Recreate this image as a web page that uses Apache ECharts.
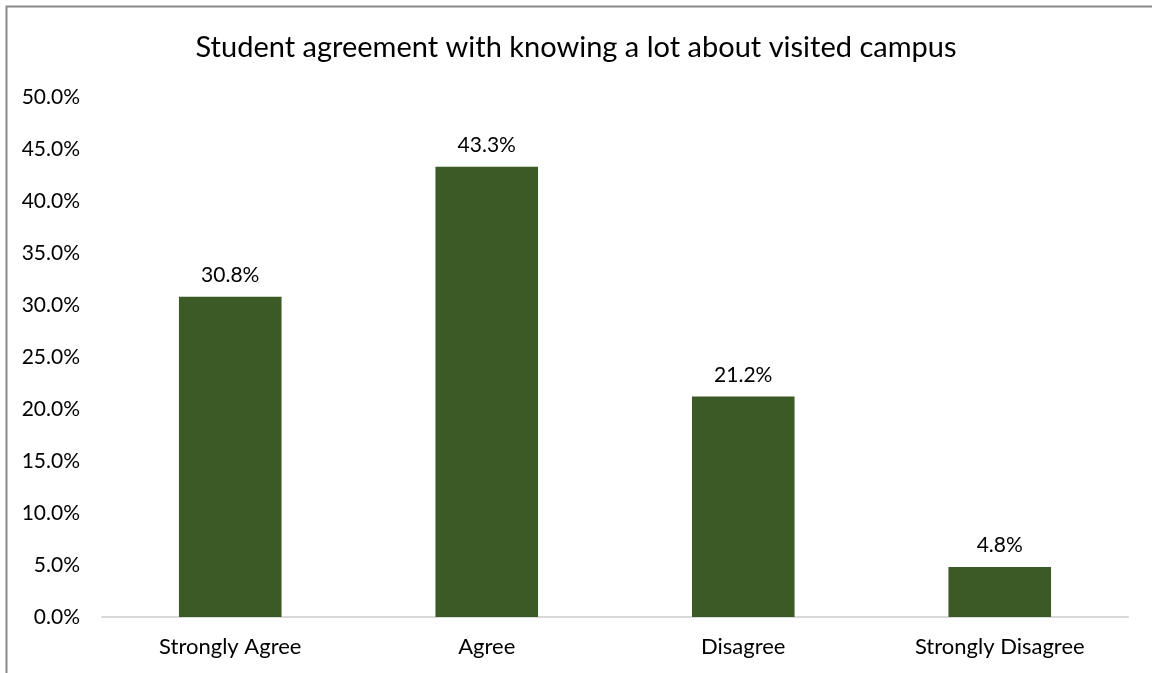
<!DOCTYPE html>
<html><head><meta charset="utf-8">
<script src="https://cdn.jsdelivr.net/npm/echarts@6/dist/echarts.min.js"></script>
<style>html,body{margin:0;padding:0;background:#fff}#c{width:1152px;height:673px}</style>
</head><body><div id="c"></div>
<script>
const categories = ["Strongly Agree", "Agree", "Disagree", "Strongly Disagree"];
const values = [30.8, 43.3, 21.2, 4.8];
const titleText = "Student agreement with knowing a lot about visited campus";
const FONT = "Lato, 'Open Sans', sans-serif";
const chart = echarts.init(document.getElementById('c'));
chart.setOption({
  animation: false,
  graphic: [{type:'rect', shape:{x:6.5,y:6.5,width:1160,height:700}, style:{fill:'none', stroke:'#898989', lineWidth:2}}],
  title: {text: titleText, left: 'center', top: 28, textStyle:{fontFamily:FONT, fontSize:29, fontWeight:'normal', color:'#000'}},
  grid: {left: 102, right: 24, top: 97, bottom: 56, containLabel:false},
  xAxis: {type:'category', data: categories,
    axisLine:{lineStyle:{color:'#d9d9d9', width:2}}, axisTick:{show:false},
    axisLabel:{fontFamily:FONT, fontSize:22, color:'#000', margin:19}},
  yAxis: {type:'value', min:0, max:50, interval:5,
    splitLine:{show:false}, axisLine:{show:false}, axisTick:{show:false},
    axisLabel:{fontFamily:FONT, fontSize:21, color:'#000', margin:22, formatter: v => v.toFixed(1)+'%'}},
  series: [{type:'bar', data: values, barWidth:'40%', itemStyle:{color:'#3b5a26'},
    label:{show:true, position:'top', distance:11, fontFamily:FONT, fontSize:21, color:'#000', formatter: p => p.value.toFixed(1)+'%'}}]
});
</script></body></html>
